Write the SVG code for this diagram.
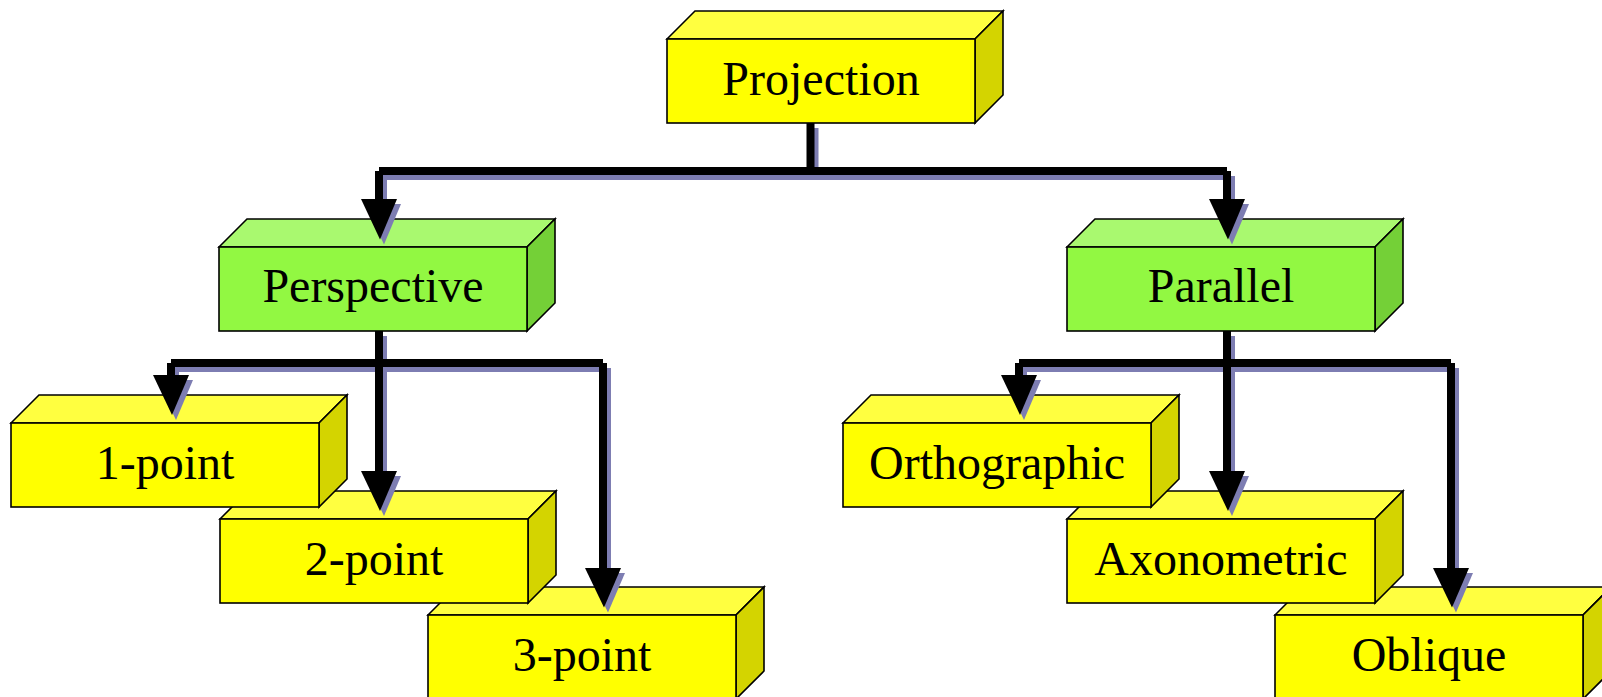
<svg xmlns="http://www.w3.org/2000/svg" xmlns:xlink="http://www.w3.org/1999/xlink" width="1602" height="697" viewBox="0 0 1602 697">
  <style>
    .edge { stroke: #000; stroke-width: 1.6; stroke-linejoin: miter; }
    .fy { fill: #FFFF00; }
    .ty { fill: #FFFF40; }
    .sy { fill: #D4D400; }
    .fg { fill: #92F842; }
    .tg { fill: #A9F96F; }
    .sg { fill: #74D037; }
    .lbl { font-family: "Liberation Serif", "Times New Roman", serif; font-size: 48px; fill: #000; text-anchor: middle; }
    .wire { fill: none; stroke-width: 8; stroke-linecap: butt; }
    .ink .wire { stroke: #000; }
    .ink .head { fill: #000; }
    .shade .wire { stroke: #7D7DB2; }
    .shade .head { fill: #7D7DB2; }
  </style>
  <rect x="0" y="0" width="1602" height="697" fill="#FFFFFF"/>

  <!-- Projection -->
  <g id="node-projection">
    <polygon class="ty edge" points="667,39 695,11 1003,11 975,39"/>
    <polygon class="sy edge" points="975,39 1003,11 1003,95 975,123"/>
    <rect class="fy edge" x="667" y="39" width="308" height="84"/>
    <text class="lbl" x="821" y="95">Projection</text>
  </g>

  <!-- Perspective -->
  <g id="node-perspective">
    <polygon class="tg edge" points="219,247 247,219 555,219 527,247"/>
    <polygon class="sg edge" points="527,247 555,219 555,303 527,331"/>
    <rect class="fg edge" x="219" y="247" width="308" height="84"/>
    <text class="lbl" x="373" y="302">Perspective</text>
  </g>

  <!-- Parallel -->
  <g id="node-parallel">
    <polygon class="tg edge" points="1067,247 1095,219 1403,219 1375,247"/>
    <polygon class="sg edge" points="1375,247 1403,219 1403,303 1375,331"/>
    <rect class="fg edge" x="1067" y="247" width="308" height="84"/>
    <text class="lbl" x="1221" y="302">Parallel</text>
  </g>

  <!-- 3-point -->
  <g id="node-3point">
    <polygon class="ty edge" points="428,615 456,587 764,587 736,615"/>
    <polygon class="sy edge" points="736,615 764,587 764,671 736,699"/>
    <rect class="fy edge" x="428" y="615" width="308" height="84"/>
    <text class="lbl" x="582" y="671">3-point</text>
  </g>

  <!-- 2-point -->
  <g id="node-2point">
    <polygon class="ty edge" points="220,519 248,491 556,491 528,519"/>
    <polygon class="sy edge" points="528,519 556,491 556,575 528,603"/>
    <rect class="fy edge" x="220" y="519" width="308" height="84"/>
    <text class="lbl" x="374" y="575">2-point</text>
  </g>

  <!-- 1-point -->
  <g id="node-1point">
    <polygon class="ty edge" points="11,423 39,395 347,395 319,423"/>
    <polygon class="sy edge" points="319,423 347,395 347,479 319,507"/>
    <rect class="fy edge" x="11" y="423" width="308" height="84"/>
    <text class="lbl" x="165" y="479">1-point</text>
  </g>

  <!-- Oblique -->
  <g id="node-oblique">
    <polygon class="ty edge" points="1275,615 1303,587 1611,587 1583,615"/>
    <polygon class="sy edge" points="1583,615 1611,587 1611,671 1583,699"/>
    <rect class="fy edge" x="1275" y="615" width="308" height="84"/>
    <text class="lbl" x="1429" y="671">Oblique</text>
  </g>

  <!-- Axonometric -->
  <g id="node-axonometric">
    <polygon class="ty edge" points="1067,519 1095,491 1403,491 1375,519"/>
    <polygon class="sy edge" points="1375,519 1403,491 1403,575 1375,603"/>
    <rect class="fy edge" x="1067" y="519" width="308" height="84"/>
    <text class="lbl" x="1221" y="575">Axonometric</text>
  </g>

  <!-- Orthographic -->
  <g id="node-orthographic">
    <polygon class="ty edge" points="843,423 871,395 1179,395 1151,423"/>
    <polygon class="sy edge" points="1151,423 1179,395 1179,479 1151,507"/>
    <rect class="fy edge" x="843" y="423" width="308" height="84"/>
    <text class="lbl" x="997" y="479">Orthographic</text>
  </g>

  <!-- Connectors -->
  <g id="connectors">
    <g class="shade" transform="translate(4,5)">
      <path class="wire" d="M810.5,123 V171 M379,171 H1227 M379,171 V200 M1227,171 V200"/>
      <path class="wire" d="M379,331 V472 M171,363 H603 M171,363 V376 M603,363 V569"/>
      <path class="wire" d="M1227,331 V472 M1019,363 H1451 M1019,363 V376 M1451,363 V569"/>
      <polygon class="head" points="361,199 397,199 380,239.5"/>
      <polygon class="head" points="1209,199 1245,199 1228,239.5"/>
      <polygon class="head" points="361,471 397,471 380,511"/>
      <polygon class="head" points="153,375 189,375 172,415"/>
      <polygon class="head" points="585,568 621,568 604,607.5"/>
      <polygon class="head" points="1209,471 1245,471 1228,511"/>
      <polygon class="head" points="1001,375 1037,375 1020,415"/>
      <polygon class="head" points="1433,568 1469,568 1452,607.5"/>
    </g>
    <g class="ink">
      <path class="wire" d="M810.5,123 V171 M379,171 H1227 M379,171 V200 M1227,171 V200"/>
      <path class="wire" d="M379,331 V472 M171,363 H603 M171,363 V376 M603,363 V569"/>
      <path class="wire" d="M1227,331 V472 M1019,363 H1451 M1019,363 V376 M1451,363 V569"/>
      <polygon class="head" points="361,199 397,199 380,239.5"/>
      <polygon class="head" points="1209,199 1245,199 1228,239.5"/>
      <polygon class="head" points="361,471 397,471 380,511"/>
      <polygon class="head" points="153,375 189,375 172,415"/>
      <polygon class="head" points="585,568 621,568 604,607.5"/>
      <polygon class="head" points="1209,471 1245,471 1228,511"/>
      <polygon class="head" points="1001,375 1037,375 1020,415"/>
      <polygon class="head" points="1433,568 1469,568 1452,607.5"/>
    </g>
  </g>
</svg>
